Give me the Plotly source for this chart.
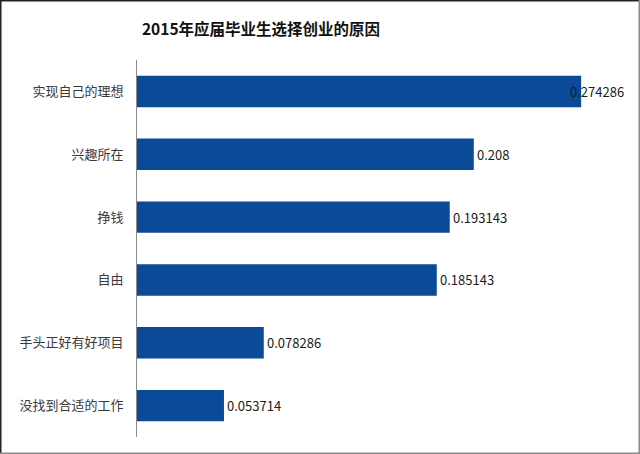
import plotly.graph_objects as go

W, H = 640, 454

reasons = ["实现自己的理想", "兴趣所在", "挣钱", "自由", "手头正好有好项目", "没找到合适的工作"]
shares = [0.274286, 0.208, 0.193143, 0.185143, 0.078286, 0.053714]
labels = ["0.274286", "0.208", "0.193143", "0.185143", "0.078286", "0.053714"]

BAR = "#0b4a96"
X_MAX = 0.302
M = dict(l=137, r=14, t=60, b=17)
plot_w = W - M["l"] - M["r"]
plot_h = H - M["t"] - M["b"]

fig = go.Figure()
fig.add_trace(go.Bar(
    x=shares,
    y=reasons,
    orientation="h",
    width=0.5,
    marker=dict(color=BAR, line=dict(width=0)),
    hoverinfo="x+y",
))

# data labels: right of the bar, pulled back inside when they would run off
for v, s, r in zip(shares, labels, reasons):
    est_w = len(s) * 7.4 / plot_w * X_MAX
    if v + est_w > X_MAX:
        fig.add_annotation(x=X_MAX, y=r, text=s, showarrow=False, xanchor="right",
                           font=dict(size=13, color="#1a1a1a"))
    else:
        fig.add_annotation(x=v, y=r, text=s, showarrow=False, xanchor="left", xshift=1,
                           font=dict(size=13, color="#1a1a1a"))

# outer frame of the picture
x0 = -M["l"] / plot_w
x1 = 1 + M["r"] / plot_w
y0 = -M["b"] / plot_h
y1 = 1 + M["t"] / plot_h
fig.add_shape(type="line", xref="paper", yref="paper", x0=x0, x1=x1, y0=y1, y1=y1,
              line=dict(color="#222222", width=3))
fig.add_shape(type="line", xref="paper", yref="paper", x0=x0, x1=x0, y0=y0, y1=y1,
              line=dict(color="#222222", width=3))
fig.add_shape(type="line", xref="paper", yref="paper", x0=x1, x1=x1, y0=y0, y1=y1,
              line=dict(color="#8a8a8a", width=3))
fig.add_shape(type="line", xref="paper", yref="paper", x0=x0, x1=x1, y0=y0, y1=y0,
              line=dict(color="#8a8a8a", width=3))

fig.update_layout(
    width=W,
    height=H,
    title=dict(text="<b>2015年应届毕业生选择创业的原因</b>", x=261 / W, xref="container",
               xanchor="center", y=1 - 30 / H, yanchor="middle",
               font=dict(size=15.5, color="#111111", family="Noto Sans CJK SC")),
    font=dict(family="Noto Sans CJK SC, Noto Sans", size=13, color="#333333"),
    paper_bgcolor="white",
    plot_bgcolor="white",
    showlegend=False,
    margin=M,
)
fig.update_xaxes(range=[0, X_MAX], visible=False, fixedrange=True)
fig.update_yaxes(autorange="reversed", showline=True, linecolor="#8c8c8c", linewidth=1,
                 ticks="", showgrid=False, ticklabelstandoff=10,
                 tickfont=dict(size=13, color="#3a3a3a", family="Noto Sans CJK SC"))

# drop the browser's default body margin so the figure sits at the page corner
fig.write_html("out.html", config={"displayModeBar": False},
               post_script="document.body.style.margin='0';")
